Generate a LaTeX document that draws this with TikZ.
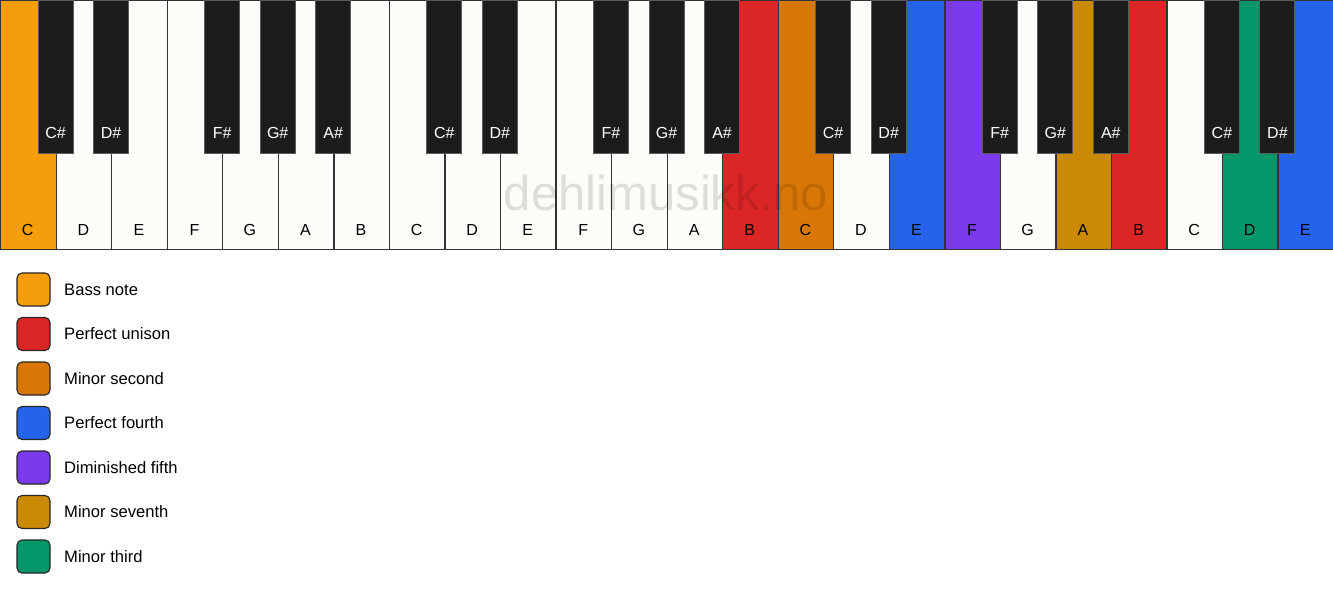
\documentclass[tikz,border=0pt]{standalone}
\usepackage{fontspec}
\setmainfont{Liberation Sans}
\definecolor{wkey}{HTML}{FDFCF9}
\definecolor{bkey}{HTML}{1C1C1C}
\definecolor{edge}{HTML}{333333}
\definecolor{cBass}{HTML}{F59E0B}
\definecolor{cUni}{HTML}{DC2626}
\definecolor{cMin2}{HTML}{D97706}
\definecolor{cP4}{HTML}{2563EB}
\definecolor{cD5}{HTML}{7C3AED}
\definecolor{cMin7}{HTML}{CA8A04}
\definecolor{cMin3}{HTML}{059669}
\tikzset{
  whitekey/.style={draw=edge, line width=1.3pt, rectangle, inner sep=0pt, minimum width=55.54pt, minimum height=249pt, anchor=north west},
  blackkey/.style={draw=edge!80, line width=1pt, fill=bkey, rectangle, inner sep=0pt, minimum width=35pt, minimum height=153pt, anchor=north},
  wlabel/.style={font=\fontsize{16}{18}\selectfont, text=black, inner sep=0pt},
  blabel/.style={font=\fontsize{16}{18}\selectfont, text=white, inner sep=0pt},
  swatch/.style={draw=black!85, line width=1.1pt, rounded corners=5pt, rectangle, inner sep=0pt, minimum width=33pt, minimum height=33pt},
  legtext/.style={font=\fontsize{16.6}{19}\selectfont, anchor=west, inner sep=0pt},
  watermark/.style={font=\fontsize{49}{52}\selectfont, text=black, text opacity=0.12, inner sep=0pt}
}
\begin{document}
\begin{tikzpicture}[x=1pt,y=-1pt]
\useasboundingbox (0,0) rectangle (1333,594);
\fill[white] (0,0) rectangle (1333,594);
% white keys
\foreach \i/\n/\c in {0/C/cBass,1/D/wkey,2/E/wkey,3/F/wkey,4/G/wkey,5/A/wkey,6/B/wkey,
  7/C/wkey,8/D/wkey,9/E/wkey,10/F/wkey,11/G/wkey,12/A/wkey,13/B/cUni,
  14/C/cMin2,15/D/wkey,16/E/cP4,17/F/cD5,18/G/wkey,19/A/cMin7,20/B/cUni,
  21/C/wkey,22/D/cMin3,23/E/cP4}{
  \node[whitekey, fill=\c] (w\i) at (\i*55.5417,0) {};
  \node[wlabel] (wl\i) at (\i*55.5417+27.77,230) {\n};
}
% watermark
\node[watermark] (wm) at (666,193) {dehlimusikk.no};
% black keys
\foreach \i/\n in {0/C\#,1/D\#,3/F\#,4/G\#,5/A\#,7/C\#,8/D\#,10/F\#,11/G\#,12/A\#,
  14/C\#,15/D\#,17/F\#,18/G\#,19/A\#,21/C\#,22/D\#}{
  \node[blackkey] (b\i) at (\i*55.5417+55.5417,0) {};
  \node[blabel] (bl\i) at (\i*55.5417+55.5417,133) {\n};
}
% legend
\foreach \k/\c/\t in {0/cBass/Bass note,1/cUni/Perfect unison,2/cMin2/Minor second,
  3/cP4/Perfect fourth,4/cD5/Diminished fifth,5/cMin7/Minor seventh,6/cMin3/Minor third}{
  \node[swatch, fill=\c] (s\k) at (33.5,289.5+\k*44.5) {};
  \node[legtext] (t\k) at (64,289.5+\k*44.5) {\t};
}
\end{tikzpicture}
\end{document}
